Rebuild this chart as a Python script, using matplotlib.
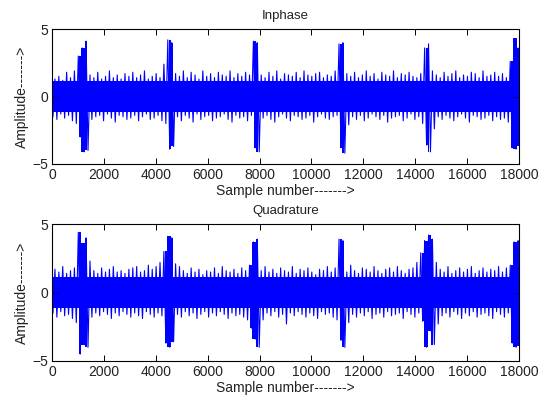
import numpy as np
import matplotlib
matplotlib.use("Agg")
import matplotlib.pyplot as plt

# sample positions of envelope readings (every 150 samples)
samples = list(range(0, 18001, 150))

# Inphase: upper / lower peaks per 150-sample window
inphase_upper = [1.7, 1.3, 1.5, 1.2, 1.8, 1.4, 1.9,
                 3.0, 3.6, 4.1,
                 1.6, 1.4, 1.8, 1.3, 1.5, 1.9, 1.4, 1.6, 1.3, 1.7,
                 1.5, 1.8, 1.4, 1.6, 1.9, 1.3, 1.5, 1.7, 1.4,
                 2.4, 4.2, 4.0,
                 1.7, 1.5, 1.9, 1.4, 1.8, 1.6, 1.3, 1.9, 1.5, 1.7, 1.4, 1.8, 1.6, 1.5, 1.9, 1.4, 1.7, 1.5, 1.8, 1.6,
                 4.1, 4.0,
                 1.6, 1.4, 1.8, 1.5, 1.9, 1.3, 1.7, 1.6, 1.5, 1.8, 1.4, 1.9, 1.6, 1.5, 1.7, 1.8, 1.4, 1.6, 1.5, 1.9,
                 3.9, 4.0,
                 1.7, 1.5, 1.8, 1.4, 1.6, 1.9, 1.5, 1.7, 1.3, 1.8, 1.6, 1.5, 1.9, 1.4, 1.7, 1.6, 1.8, 1.5, 1.4, 1.7,
                 3.6, 3.9, 1.9,
                 1.6, 1.4, 1.8, 1.5, 1.7, 1.9, 1.4, 1.6, 1.5, 1.8, 1.7, 1.4, 1.9, 1.5, 1.6, 1.8, 1.5, 1.7, 1.4,
                 2.6, 4.3, 3.6]
inphase_lower = [-1.5, -1.7, -1.3, -1.6, -1.4, -1.8, -2.0,
                 -3.0, -4.1, -4.0,
                 -1.7, -1.5, -1.4, -1.8, -1.3, -1.6, -1.9, -1.4, -1.5, -1.7,
                 -1.6, -1.4, -1.8, -1.5, -1.3, -1.7, -1.6, -1.4, -1.8,
                 -2.0, -3.9, -3.7,
                 -1.5, -1.8, -1.4, -1.6, -1.9, -1.3, -1.7, -1.5, -1.4, -1.8, -1.6, -1.5, -1.3, -1.7, -1.9, -1.4, -1.6, -1.5, -1.8, -1.4,
                 -3.8, -4.1,
                 -1.6, -1.4, -1.7, -1.9, -1.5, -1.3, -1.6, -1.8, -1.4, -1.5, -1.7, -1.6, -1.4, -1.9, -1.5, -1.3, -1.6, -1.7, -1.5, -1.4,
                 -3.8, -4.2,
                 -2.1, -1.5, -1.7, -1.4, -1.8, -1.6, -1.3, -1.5, -1.7, -1.4, -1.9, -1.6, -1.5, -1.4, -1.8, -1.6, -1.3, -1.7, -1.5, -2.0,
                 -3.6, -4.1, -2.4,
                 -1.5, -1.7, -1.4, -1.6, -1.8, -1.5, -1.3, -1.6, -1.9, -1.4, -1.5, -1.7, -1.6, -1.4, -1.8, -1.5, -1.7, -1.6, -1.9,
                 -3.8, -3.9, -3.7]

# Quadrature: upper / lower peaks per 150-sample window
quad_upper = [1.8, 1.7, 1.5, 1.9, 1.4, 1.6, 1.8,
              4.4, 3.6, 4.0,
              2.3, 1.6, 1.4, 1.8, 1.5, 1.7, 1.9, 1.5, 1.6, 1.4,
              1.7, 1.8, 1.9, 1.5, 1.6, 2.0, 1.7, 1.9, 2.2,
              3.0, 4.1, 4.0,
              2.1, 1.9, 1.6, 1.4, 1.8, 1.5, 1.7, 1.3, 1.6, 1.5, 1.8, 1.4, 1.9, 1.6, 1.5, 1.7, 1.4, 1.8, 1.6, 2.0,
              3.7, 3.9,
              1.6, 1.9, 1.5, 1.7, 1.4, 1.8, 1.6, 1.5, 1.9, 1.4, 1.7, 1.6, 1.8, 1.5, 1.3, 1.7, 1.6, 1.9, 1.5, 1.8,
              3.9, 3.8,
              1.5, 2.0, 1.6, 1.4, 1.8, 1.7, 1.5, 1.9, 1.6, 1.4, 1.7, 1.8, 1.5, 1.9, 1.6, 1.4, 1.7, 1.8, 2.2, 2.9,
              3.8, 4.2, 3.9,
              2.2, 1.7, 1.5, 1.9, 1.4, 1.6, 1.8, 1.5, 1.7, 1.9, 1.4, 1.6, 1.8, 1.5, 1.7, 1.6, 1.9, 1.5, 1.8,
              2.0, 3.7, 3.8]
quad_lower = [-1.5, -1.8, -1.4, -1.7, -1.6, -1.9, -2.2,
              -4.5, -3.8, -4.0,
              -1.8, -1.5, -1.7, -1.4, -1.6, -1.9, -1.5, -1.7, -1.4, -1.6,
              -1.8, -1.5, -1.7, -1.9, -1.4, -1.6, -1.8, -1.5, -1.7,
              -3.7, -4.0, -3.6,
              -1.6, -1.8, -1.4, -1.7, -1.5, -1.9, -1.6, -1.4, -1.8, -1.5, -1.7, -1.4, -1.6, -1.9, -1.5, -1.7, -1.6, -1.8, -2.0, -2.6,
              -3.4, -4.0,
              -2.0, -1.5, -1.7, -1.4, -1.8, -1.6, -2.3, -1.5, -1.7, -1.4, -1.6, -1.8, -1.5, -1.7, -1.9, -1.4, -1.6, -1.5, -1.8, -2.0,
              -3.5, -4.0,
              -2.2, -1.6, -1.8, -1.5, -1.7, -1.4, -1.9, -1.6, -1.5, -1.8, -1.4, -1.7, -1.6, -1.5, -1.9, -1.4, -1.6, -1.8, -1.5, -2.1,
              -4.0, -2.8, -3.8,
              -2.3, -1.7, -1.5, -1.8, -1.4, -1.6, -1.9, -1.5, -1.7, -1.4, -1.8, -1.6, -1.5, -1.7, -1.9, -1.4, -1.6, -1.8, -1.5,
              -3.7, -4.0, -3.9]

titles = ["Inphase", "Quadrature"]
xlabel_text = "Sample number------->"
ylabel_text = "Amplitude------->"
xticks = list(range(0, 18001, 2000))
yticks = [-5, 0, 5]

plt.rcParams['font.family'] = ['Liberation Sans', 'DejaVu Sans']

fig = plt.figure(figsize=(5.43, 3.98), dpi=100)
ax1 = fig.add_axes([0.0958, 0.588, 0.860, 0.339])
ax2 = fig.add_axes([0.0958, 0.093, 0.860, 0.344])

BLUE = (0, 0, 1)
CORE = 1.15
BURST = 2.5
TXT = '#222222'

for ax, up, lo, title in [(ax1, inphase_upper, inphase_lower, titles[0]),
                          (ax2, quad_upper, quad_lower, titles[1])]:
    x = np.array(samples, dtype=float)
    up = np.array(up)
    lo = np.array(lo)
    # solid core of the dense signal
    ax.fill_between(x, np.maximum(lo, -CORE), np.minimum(up, CORE),
                    step='mid', color=BLUE, linewidth=0)
    # solid bursts
    mask = (up > BURST) | (lo < -BURST)
    ax.fill_between(x, lo, up, where=mask, step='mid', color=BLUE, linewidth=0)
    # zig-zag trace through the peaks
    zx = np.column_stack([x - 37, x + 37]).ravel()
    zy = np.column_stack([up, lo]).ravel()
    ax.plot(zx, zy, color=BLUE, linewidth=0.8)

    ax.set_xlim(0, 18000)
    ax.set_ylim(-5, 5)
    ax.set_xticks(xticks)
    ax.set_yticks(yticks)
    ax.tick_params(direction='in', top=True, right=True, length=4,
                   labelsize=10, width=0.7, pad=3, labelcolor=TXT)
    for s in ax.spines.values():
        s.set_linewidth(0.8)
    ax.set_title(title, fontsize=9.5, pad=7, color=TXT)
    ax.set_xlabel(xlabel_text, fontsize=10, labelpad=1, color=TXT)
    ax.set_ylabel(ylabel_text, fontsize=10, labelpad=2, color=TXT)

fig.savefig("out.png", dpi=100)
